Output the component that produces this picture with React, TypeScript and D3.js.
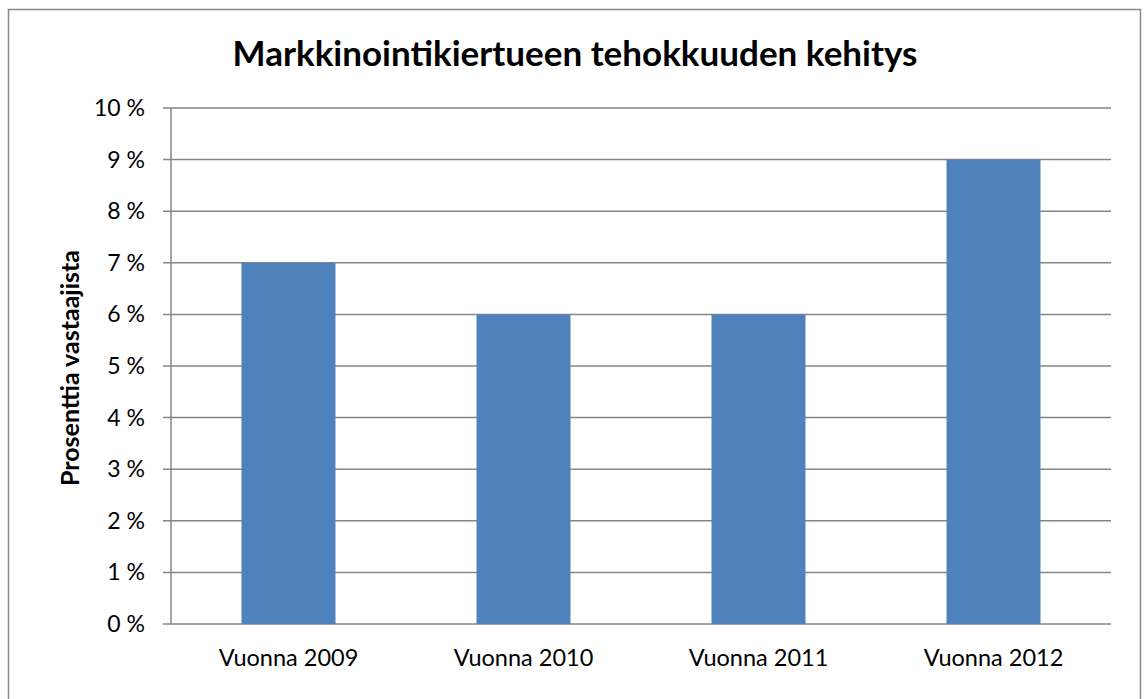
import React from "react";
import * as d3 from "d3";

const categories = ["Vuonna 2009", "Vuonna 2010", "Vuonna 2011", "Vuonna 2012"];
const values = [7, 6, 6, 9];
const yTicks = [0, 1, 2, 3, 4, 5, 6, 7, 8, 9, 10];
const title = "Markkinointikiertueen tehokkuuden kehitys";
const yTitle = "Prosenttia vastaajista";

export default function App() {
  const W = 1144, H = 699;
  const left = 171, right = 1111, top = 108, bottom = 624;
  const x = d3.scaleBand<string>().domain(categories).range([left, right]).paddingInner(0.6).paddingOuter(0.3);
  const y = d3.scaleLinear().domain([0, 10]).range([bottom, top]);
  const font = "Lato, 'Open Sans', sans-serif";
  const grid = "#868686";
  return (
    <svg width={W} height={H} style={{ position: "absolute", left: 0, top: 0, background: "#fff" }}>
      <rect x={8.5} y={9.5} width={1132} height={720} fill="#fff" stroke="#898989" strokeWidth={1.5} />
      <text x={575} y={66} textAnchor="middle" fontFamily={font} fontWeight="bold" fontSize={35} fill="#000">{title}</text>
      {yTicks.map((t) => (
        <g key={t}>
          <line x1={163} x2={right} y1={y(t)} y2={y(t)} stroke={grid} strokeWidth={1.5} />
          <text x={145} y={y(t) + 8} textAnchor="end" fontFamily={font} fontSize={23} fill="#000">{`${t} %`}</text>
        </g>
      ))}
      <line x1={left} x2={left} y1={top} y2={bottom} stroke={grid} strokeWidth={1.5} />
      {categories.map((c, i) => (
        <g key={c}>
          <rect x={x(c)} y={y(values[i])} width={x.bandwidth()} height={bottom - y(values[i])} fill="#4F81BD" />
          <text x={(x(c) as number) + x.bandwidth() / 2} y={666} textAnchor="middle" fontFamily={font} fontSize={23.5} fill="#000">{c}</text>
        </g>
      ))}
      <text transform={`translate(79,368) rotate(-90)`} textAnchor="middle" fontFamily={font} fontWeight="bold" fontSize={25} fill="#000">{yTitle}</text>
    </svg>
  );
}
